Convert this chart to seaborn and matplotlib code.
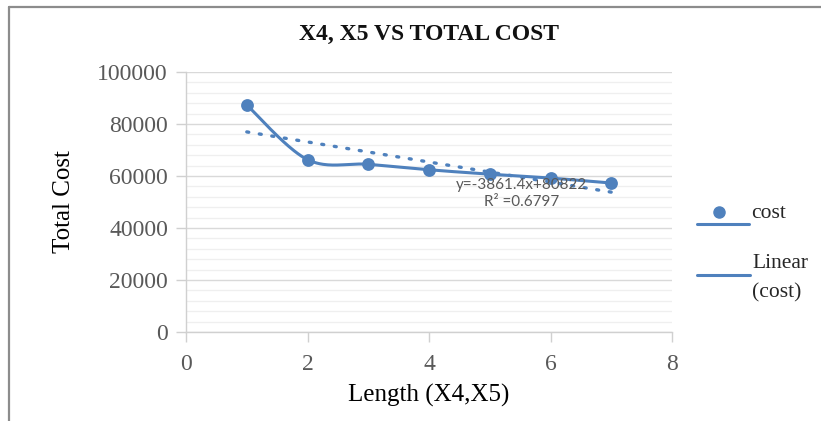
import numpy as np
import pandas as pd
import matplotlib
matplotlib.use("Agg")
import matplotlib.pyplot as plt
from matplotlib.lines import Line2D
from matplotlib.ticker import MultipleLocator
import seaborn as sns

# Data
length = [1, 2, 3, 4, 5, 6, 7]
cost = [87300, 66300, 64500, 62400, 60700, 59200, 57300]

# Linear trendline as printed on the chart
slope = -3861.4
intercept = 80822
r_squared = 0.6797

sns.set_theme(style="white")
plt.rcParams["font.family"] = ["Liberation Serif", "DejaVu Serif"]

BLUE = "#4F81BD"
GREY_TXT = "#595959"

fig = plt.figure(figsize=(8.21, 4.21), dpi=100)
ax = fig.add_axes([0.2266, 0.2114, 0.5919, 0.6176])


def smooth_curve(xs, ys, sx, sy, n=40):
    """Cardinal (Catmull-Rom style) Bezier smoothing in display-like units."""
    px = np.asarray(xs, float) * sx
    py = np.asarray(ys, float) * sy
    pts = np.column_stack([px, py])
    out = [pts[0]]
    t = np.linspace(0, 1, n)[1:]
    for i in range(len(pts) - 1):
        p0 = pts[i - 1] if i > 0 else pts[i]
        p1 = pts[i]
        p2 = pts[i + 1]
        p3 = pts[i + 2] if i + 2 < len(pts) else pts[i + 1]
        c1 = p1 + (p2 - p0) / 6.0
        c2 = p2 - (p3 - p1) / 6.0
        seg = ((1 - t) ** 3)[:, None] * p1 + (3 * (1 - t) ** 2 * t)[:, None] * c1 \
            + (3 * (1 - t) * t ** 2)[:, None] * c2 + (t ** 3)[:, None] * p2
        out.extend(seg)
    out = np.array(out)
    return out[:, 0] / sx, out[:, 1] / sy


sx_curve, sy_curve = smooth_curve(length, cost, 486 / 8, 260 / 100000)
curve = pd.DataFrame({"x": sx_curve, "y": sy_curve})
sns.lineplot(data=curve, x="x", y="y", sort=False, color=BLUE, lw=2.2, ax=ax)

points = pd.DataFrame({"Length": length, "cost": cost})
sns.scatterplot(data=points, x="Length", y="cost", color=BLUE, s=85,
                edgecolor=BLUE, linewidth=0, ax=ax, zorder=4)

trend_x = np.array([length[0], length[-1]], float)
trend = pd.DataFrame({"x": trend_x, "y": slope * trend_x + intercept})
sns.lineplot(data=trend, x="x", y="y", color=BLUE, lw=2.4,
             linestyle=(0, (0.6, 3.2)), dash_capstyle="round", ax=ax)

eq_font = ["Lato", "DejaVu Sans"]
ax.text(5.52, 56600, f"y=-{abs(slope)}x+{intercept}", ha="center", va="center",
        fontsize=11, color=GREY_TXT, family=eq_font, zorder=5)
ax.text(5.52, 49900, f"R² ={r_squared}", ha="center", va="center",
        fontsize=11, color=GREY_TXT, family=eq_font, zorder=5)

ax.set_xlim(0, 8)
ax.set_ylim(0, 100000)
ax.xaxis.set_major_locator(MultipleLocator(2))
ax.yaxis.set_major_locator(MultipleLocator(20000))
ax.yaxis.set_minor_locator(MultipleLocator(4000))
ax.grid(axis="y", which="major", color="#D9D9D9", lw=1.0)
ax.grid(axis="y", which="minor", color="#EFEFEF", lw=0.9)
ax.grid(axis="x", which="both", visible=False)
ax.set_axisbelow(True)

for side in ["top", "right"]:
    ax.spines[side].set_visible(False)
for side in ["left", "bottom"]:
    ax.spines[side].set_color("#D0D0D0")
    ax.spines[side].set_linewidth(1.0)

ax.tick_params(axis="both", which="major", direction="out", length=7, width=1,
               color="#D0D0D0", labelsize=17, labelcolor=GREY_TXT, pad=6)
ax.tick_params(axis="y", which="minor", length=0)
ax.tick_params(axis="x", which="major", bottom=True, pad=9)
ax.tick_params(axis="y", which="major", left=True)

ax.set_xlabel("Length (X4,X5)", fontsize=18, color="black", labelpad=6)
ax.set_ylabel("Total Cost", fontsize=18, color="black", labelpad=16)
ax.set_title("X4, X5 VS TOTAL COST", fontsize=17, fontweight="bold",
             color="#111111", pad=23)

# Legend drawn at the right of the plot area
W, H = 821, 421


def fx(px):
    return px / W


def fy(py):
    return 1 - py / H


fig.add_artist(Line2D([fx(697), fx(749)], [fy(224), fy(224)], color=BLUE, lw=2.2))
fig.add_artist(Line2D([fx(719)], [fy(212)], marker="o", ms=8, color=BLUE, lw=0))
fig.text(fx(751), fy(213), "cost", fontsize=15.5, va="center", ha="left")
fig.add_artist(Line2D([fx(697), fx(750)], [fy(275), fy(275)], color=BLUE, lw=2.2))
fig.text(fx(752), fy(263), "Linear", fontsize=15.5, va="center", ha="left")
fig.text(fx(752), fy(293), "(cost)", fontsize=15.5, va="center", ha="left")

# Outer frame edges (left and top)
fig.add_artist(Line2D([fx(9), fx(9)], [fy(7), 0], color="#8C8C8C", lw=1.6))
fig.add_artist(Line2D([fx(9), 1], [fy(7), fy(7)], color="#8C8C8C", lw=1.6))

fig.savefig("out.png", dpi=100)
